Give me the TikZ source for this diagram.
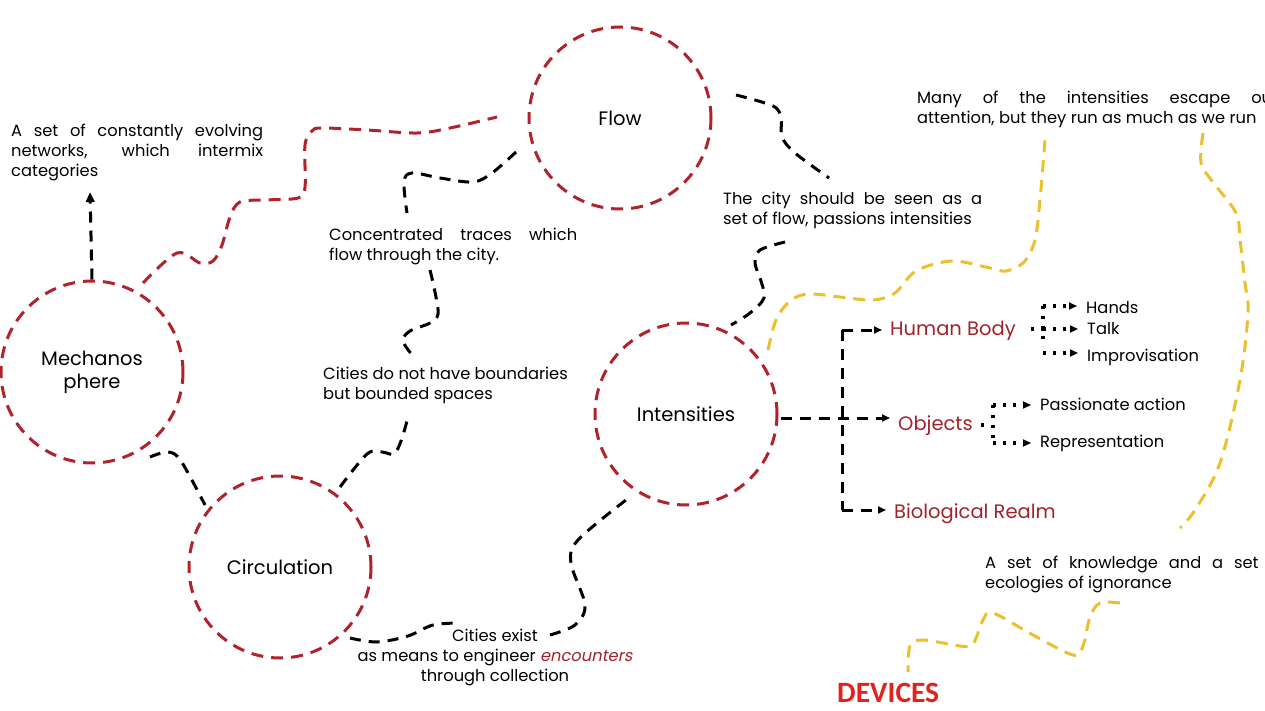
\documentclass[tikz,border=0pt]{standalone}
\usepackage{fontspec}
\setmainfont{Poppins}
\newfontfamily\slfont[FakeSlant=0.2]{Poppins}
\newfontfamily\devfont{Carlito}
\usetikzlibrary{arrows.meta}
\definecolor{cred}{HTML}{B0232B}
\definecolor{tred}{HTML}{A0222A}
\definecolor{cyel}{HTML}{EDBF2C}
\definecolor{dred}{HTML}{E1221F}
\begin{document}
\begin{tikzpicture}[x=1pt,y=-1pt,
  circ/.style={circle, draw=cred, line width=3pt, dash pattern=on 12pt off 8pt,
    minimum size=182pt, inner sep=0pt, font=\fontsize{19.5}{23}\selectfont, align=center},
  blk/.style={draw=black, line width=3pt, dash pattern=on 11pt off 8pt},
  redw/.style={draw=cred, line width=3pt, dash pattern=on 12pt off 8pt},
  yel/.style={draw=cyel, line width=3pt, dash pattern=on 12pt off 8pt},
  dotl/.style={draw=black, line width=3.2pt, dash pattern=on 3.2pt off 6.8pt},
  txt/.style={font=\fontsize{16.3}{20}\selectfont, inner sep=0pt, align=left, anchor=base west},
  rtxt/.style={font=\fontsize{19.5}{22}\selectfont, text=tred, inner sep=0pt, anchor=base west},
  tip/.style={-{Stealth[length=10pt,width=8.5pt,inset=0pt]}},
  stip/.style={-{Stealth[length=8pt,width=7pt,inset=0pt]}},
  smoothp/.style={smooth, tension=0.55}
]
\useasboundingbox (0,0) rectangle (1265,711);
\clip (0,0) rectangle (1265,711);

% circles
\node[circ] (flow) at (620,118) {Flow};
\node[circ] (mech) at (92,372) {Mechanos\\phere};
\node[circ] (circ) at (280,567) {Circulation};
\node[circ] (int) at (686,414) {Intensities};

% texts (anchor = baseline of last line)
\node[txt] (t1) at (11,177) {\makebox[252pt][s]{A set of constantly evolving}\\\makebox[252pt][s]{networks, which intermix}\\categories};
\node[txt] (t2) at (329,260) {\makebox[248pt][s]{Concentrated traces which}\\flow through the city.};
\node[txt] (t3) at (723,225) {\makebox[259pt][s]{The city should be seen as a}\\set of flow, passions intensities};
\node[txt] (t4) at (917,124) {\makebox[361pt][s]{Many of the intensities escape our}\\attention, but they run as much as we run};
\node[txt] (t5) at (323,399) {Cities do not have boundaries\\but bounded spaces};
\node[txt, align=center, anchor=base] (t6) at (495,681) {Cities exist\\as means to engineer {\slfont\color{tred}encounters}\\through collection};
\node[txt] (t7) at (985,588) {\makebox[300pt][s]{A set of knowledge and a set of}\\ecologies of ignorance};
\node[anchor=base west, inner sep=0pt, text=dred, font=\devfont\bfseries\fontsize{29.5}{30}\selectfont] (dev) at (837,702) {DEVICES};

\node[rtxt] (hb) at (890,335) {Human Body};
\node[rtxt] (obj) at (898,430) {Objects};
\node[rtxt] (bio) at (894,518) {Biological Realm};

\node[txt] (hands) at (1086,313) {Hands};
\node[txt] (talk) at (1087,334) {Talk};
\node[txt] (impr) at (1087,361) {Improvisation};
\node[txt] (pass) at (1040,410) {Passionate action};
\node[txt] (repr) at (1040,447) {Representation};

% red wavy line
\coordinate (r0) at (143,283);
\coordinate (r1) at (497,117);
\draw[redw] plot[smoothp] coordinates {(r0) (177,253) (200,263) (213,261) (222,245) (230,217) (240,202) (265,200) (298,198) (305,187) (305,145) (312,131) (322,128) (367,130) (417,133) (450,128) (r1)};

% black connectors
\coordinate (a1) at (90,192);
\draw[blk,tip] (mech.north) -- (a1);

\coordinate (c2a) at (516,152);
\coordinate (c2b) at (407,213);
\draw[blk] plot[smoothp] coordinates {(c2a) (492,173) (473,182) (440,178) (412,173) (404,182) (c2b)};

\coordinate (c3a) at (430,270);
\coordinate (c3b) at (413,356);
\draw[blk] plot[smoothp] coordinates {(c3a) (435,292) (438,314) (430,323) (410,331) (403,341) (c3b)};

\coordinate (c4a) at (736,95);
\coordinate (c4b) at (829,178);
\draw[blk] plot[smoothp] coordinates {(c4a) (773,106) (781,118) (782,137) (795,153) (c4b)};

\coordinate (c5a) at (785,242);
\coordinate (c5b) at (731,325);
\draw[blk] plot[smoothp] coordinates {(c5a) (760,250) (755,263) (761,281) (764,298) (750,313) (c5b)};

\coordinate (c6a) at (150,457);
\coordinate (c6b) at (205,505);
\draw[blk] plot[smoothp] coordinates {(c6a) (168,452) (181,461) (c6b)};

\coordinate (c7a) at (340,487);
\coordinate (c7b) at (407,421);
\draw[blk] plot[smoothp] coordinates {(c7a) (367,454) (382,452) (394,454) (401,441) (c7b)};

\coordinate (c8a) at (350,638);
\coordinate (c8b) at (460,623);
\draw[blk] plot[smoothp] coordinates {(c8a) (377,642) (408,636) (433,625) (c8b)};
\coordinate (c9a) at (550,635);
\coordinate (c9b) at (626,500);
\draw[blk] plot[smoothp] coordinates {(c9a) (575,625) (585,605) (571,563) (578,540) (c9b)};

% yellow lines
\coordinate (y1a) at (768,350);
\coordinate (y1b) at (1045,140);
\draw[yel] plot[smoothp] coordinates {(y1a) (776,320) (790,301) (808,294) (840,297) (873,300) (895,293) (916,271) (952,261) (990,268) (1006,271) (1024,262) (1035,240) (1040,200) (y1b)};

\coordinate (y2a) at (1203,133);
\coordinate (y2b) at (1180,528);
\draw[yel] plot[smoothp] coordinates {(y2a) (1201,163) (1212,181) (1236,213) (1240,240) (1245,283) (1248,313) (1240,380) (1220,463) (1195,510) (y2b)};

\coordinate (y3a) at (1120,603);
\coordinate (y3b) at (908,672);
\draw[yel] plot[smoothp] coordinates {(y3a) (1100,603) (1090,617) (1083,646) (1073,655) (1033,635) (993,613) (983,620) (973,644) (960,646) (923,640) (910,646) (y3b)};

% tree
\coordinate (ir) at (781,418);
\coordinate (vt) at (842,330);
\coordinate (vb) at (842,510);
\draw[blk,stip,shorten >=8pt] (ir) -- (ir -| obj.west);
\draw[blk] (vt) -- (vb);
\draw[blk,stip,shorten >=8pt] (vt) -- (vt -| hb.west);
\draw[blk,stip,shorten >=8pt] (vb) -- (vb -| bio.west);

% dotted sub-branches
\coordinate (h0) at (1031,329);
\coordinate (hv) at (1043,329);
\coordinate (ht) at (1043,306);
\coordinate (hb2) at (1043,353);
\draw[dotl] (h0) -- (hv);
\draw[dotl] (ht) -- (1043,346);
\draw[dotl,stip,shorten >=9pt] (ht) -- (ht -| hands.west);
\draw[dotl,stip,shorten >=9pt] (hv) -- (hv -| talk.west);
\draw[dotl,stip,shorten >=9pt] (hb2) -- (hb2 -| impr.west);

\coordinate (o0) at (981,425);
\coordinate (ot) at (993,405);
\coordinate (ob) at (993,443);
\draw[dotl] (o0) -- (987,425);
\draw[dotl] (ot) -- (ob);
\draw[dotl,stip,shorten >=9pt] (ot) -- (ot -| pass.west);
\draw[dotl,stip,shorten >=9pt] (ob) -- (ob -| repr.west);
\end{tikzpicture}
\end{document}
